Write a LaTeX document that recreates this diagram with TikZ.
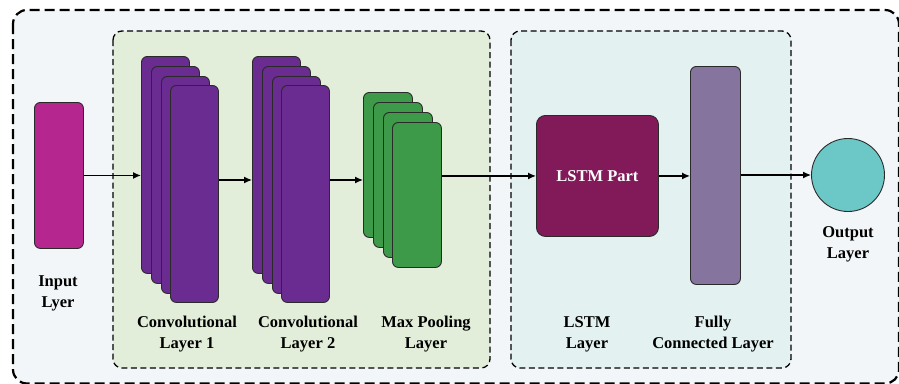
\documentclass[tikz,border=0pt]{standalone}
\usepackage{fontspec}
\setmainfont{Liberation Serif}
\usetikzlibrary{arrows.meta}
\definecolor{outerbg}{HTML}{F3F6F8}
\definecolor{greenbg}{HTML}{E3EEDA}
\definecolor{bluebg}{HTML}{E4F1F1}
\definecolor{inmag}{HTML}{B5278F}
\definecolor{convpur}{HTML}{6A2C91}
\definecolor{poolgr}{HTML}{3D9A48}
\definecolor{lstmc}{HTML}{821A5A}
\definecolor{fcc}{HTML}{85749E}
\definecolor{outc}{HTML}{6CC8C6}
\definecolor{edge}{HTML}{2A2A2A}
\tikzset{
  blk/.style={draw=edge, line width=0.9pt, rounded corners=6pt, inner sep=0pt, anchor=north west},
  convbox/.style={blk, fill=convpur, minimum width=48pt, minimum height=217pt},
  poolbox/.style={blk, fill=poolgr, minimum width=49pt, minimum height=145pt},
  lbl/.style={font=\bfseries\fontsize{16.5}{21}\selectfont, align=center, text=black},
  arr/.style={line width=1.3pt, -{Latex[length=8pt,width=7pt]}},
  grp/.style={line width=1.3pt, dash pattern=on 6pt off 3.5pt, rounded corners=9pt}
}
\begin{document}
\begin{tikzpicture}[x=1pt,y=-1pt]
\useasboundingbox (0,0) rectangle (899,383);
\fill[white] (0,0) rectangle (899,383);
\begin{scope}
\clip (0,0) rectangle (899,383);
\draw[fill=outerbg, line width=2.2pt, dash pattern=on 10pt off 5pt, rounded corners=14pt] (13,10) rectangle (899,383.5);
\end{scope}
\draw[grp, fill=greenbg] (113,31) rectangle (490,368);
\draw[grp, fill=bluebg] (511,31) rectangle (791,368);

% input
\node[blk, fill=inmag, minimum width=49pt, minimum height=146pt] (in) at (34,102) {};
% conv 1
\node[convbox] (c1a) at (141,56) {};
\node[convbox] (c1b) at (151,66) {};
\node[convbox] (c1c) at (161,76) {};
\node[convbox] (c1d) at (170,85) {};
% conv 2
\node[convbox] (c2a) at (252,56) {};
\node[convbox] (c2b) at (262,66) {};
\node[convbox] (c2c) at (272,76) {};
\node[convbox] (c2d) at (281,85) {};
% pooling
\node[poolbox] (p1) at (363,92) {};
\node[poolbox] (p2) at (373,102) {};
\node[poolbox] (p3) at (383,112) {};
\node[poolbox] (p4) at (392,122) {};
% lstm
\node[blk, fill=lstmc, minimum width=122pt, minimum height=121pt, rounded corners=9pt] (lstm) at (536,115) {};
\node[lbl, text=white] (lstmt) at (lstm.center) {LSTM Part};
% fully connected
\node[blk, fill=fcc, minimum width=50pt, minimum height=218pt] (fc) at (690,66) {};
% output
\node[circle, draw=edge, line width=0.9pt, fill=outc, minimum size=73pt, inner sep=0pt] (out) at (848,175) {};

% arrows
\coordinate (r1) at (0,180);
\draw[arr] (in.east) -- (in.east -| c1a.west);
\draw[arr] (c1d.east |- r1) -- (c2a.west |- r1);
\draw[arr] (c2d.east |- r1) -- (p1.west |- r1);
\draw[arr] (p4.east |- lstm.west) -- (lstm.west);
\draw[arr] (lstm.east) -- (lstm.east -| fc.west);
\draw[arr] (fc.east |- out.west) -- (out.west);

% labels
\node[lbl] (lin) at (58,293) {Input\\Lyer};
\node[lbl] (lc1) at (187,334) {Convolutional\\Layer 1};
\node[lbl] (lc2) at (308,334) {Convolutional\\Layer 2};
\node[lbl] (lp) at (426,334) {Max Pooling\\Layer};
\node[lbl] (ll) at (587,334) {LSTM\\Layer};
\node[lbl] (lf) at (713,334) {Fully\\Connected Layer};
\node[lbl] (lo) at (848,244) {Output\\Layer};
\end{tikzpicture}
\end{document}
